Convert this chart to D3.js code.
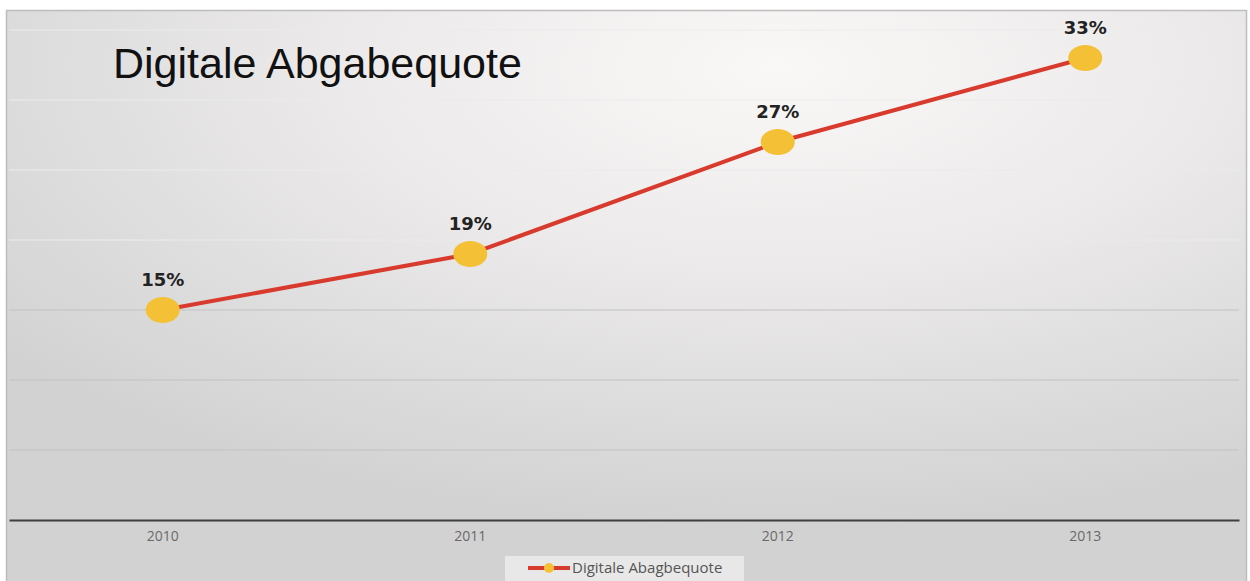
<!DOCTYPE html>
<html lang="de">
<head>
  <meta charset="UTF-8">
  <title>Digitale Abgabequote</title>
  <script src="https://cdn.jsdelivr.net/npm/d3@7"></script>
  <style>
    body { margin: 0; background: #fff; }
    svg { display: block; }
  </style>
</head>
<body>
  <div id="chart"></div>
  <script>
    // data
    var years = ["2010", "2011", "2012", "2013"];
    var quote = [15, 19, 27, 33];
    var gridTicks = [0, 5, 10, 15, 20, 25, 30, 35];
    var seriesName = "Digitale Abagbequote";

    var W = 1250, H = 581;
    var margin = { top: 30, right: 11, bottom: 61, left: 9 };
    var width = W - margin.left - margin.right,
        height = H - margin.top - margin.bottom;

    var svg = d3.select("#chart").append("svg")
      .attr("width", W).attr("height", H);

    var defs = svg.append("defs");
    var grad = defs.append("radialGradient")
      .attr("id", "bg").attr("cx", "62%").attr("cy", "10%").attr("r", "80%");
    grad.append("stop").attr("offset", "0%").attr("stop-color", "#faf8f7");
    grad.append("stop").attr("offset", "45%").attr("stop-color", "#ebe9e9");
    grad.append("stop").attr("offset", "100%").attr("stop-color", "#d2d2d2");

    // chart frame
    svg.append("rect")
      .attr("x", 6.5).attr("y", 10.5).attr("width", 1240).attr("height", 575)
      .attr("fill", "url(#bg)").attr("stroke", "#bdbdbd").attr("stroke-width", 1.5);

    var g = svg.append("g").attr("transform", "translate(" + margin.left + "," + margin.top + ")");

    var x = d3.scaleBand().domain(years).range([0, width]);
    var y = d3.scaleLinear().domain([0, 35]).range([height, 0]);

    // gridlines
    g.selectAll(".grid").data(gridTicks.filter(function(d) { return d > 0; }))
      .enter().append("line")
      .attr("x1", 0).attr("x2", width)
      .attr("y1", function(d) { return y(d); }).attr("y2", function(d) { return y(d); })
      .attr("stroke", function(d) { return d >= 20 ? "#ececec" : "#c2c2c2"; })
      .attr("stroke-width", 1.2);

    // x axis
    var xAxis = g.append("g")
      .attr("transform", "translate(0," + height + ")")
      .call(d3.axisBottom(x).tickSize(0).tickPadding(11));
    xAxis.select(".domain").attr("stroke", "#3f3f3f").attr("stroke-width", 2);
    xAxis.selectAll("text")
      .attr("fill", "#6a6a6a").style("font-family", "'Open Sans', sans-serif").style("font-size", "14px");

    // series line
    var line = d3.line()
      .x(function(d, i) { return x(years[i]) + x.bandwidth() / 2; })
      .y(function(d) { return y(d); });

    g.append("path").datum(quote)
      .attr("d", line).attr("fill", "none")
      .attr("stroke", "#d93a2e").attr("stroke-width", 4);

    // markers
    g.selectAll(".pt").data(quote).enter().append("ellipse")
      .attr("cx", function(d, i) { return x(years[i]) + x.bandwidth() / 2; })
      .attr("cy", function(d) { return y(d); })
      .attr("rx", 17).attr("ry", 13)
      .attr("fill", "#f4c136");

    // value labels
    g.selectAll(".lbl").data(quote).enter().append("text")
      .attr("x", function(d, i) { return x(years[i]) + x.bandwidth() / 2; })
      .attr("y", function(d) { return y(d) - 24; })
      .attr("text-anchor", "middle")
      .attr("fill", "#222")
      .style("font-family", "'DejaVu Sans', Verdana, sans-serif")
      .style("font-weight", "bold").style("font-size", "18px")
      .text(function(d) { return d + "%"; });

    // title
    svg.append("text")
      .attr("x", 113).attr("y", 78)
      .attr("fill", "#111")
      .style("font-family", "'Liberation Sans', Arial, sans-serif")
      .style("font-size", "43px")
      .text("Digitale Abgabequote");

    // legend
    var lg = svg.append("g").attr("transform", "translate(505,556)");
    lg.append("rect").attr("width", 239).attr("height", 25).attr("fill", "#ececec").attr("opacity", 0.85);
    lg.append("line").attr("x1", 23).attr("x2", 65).attr("y1", 12).attr("y2", 12)
      .attr("stroke", "#d93a2e").attr("stroke-width", 4);
    lg.append("circle").attr("cx", 44).attr("cy", 12).attr("r", 5).attr("fill", "#f4c136");
    lg.append("text").attr("x", 67).attr("y", 17)
      .attr("fill", "#555")
      .style("font-family", "'Open Sans', sans-serif").style("font-size", "15px")
      .text(seriesName);
  </script>
</body>
</html>
